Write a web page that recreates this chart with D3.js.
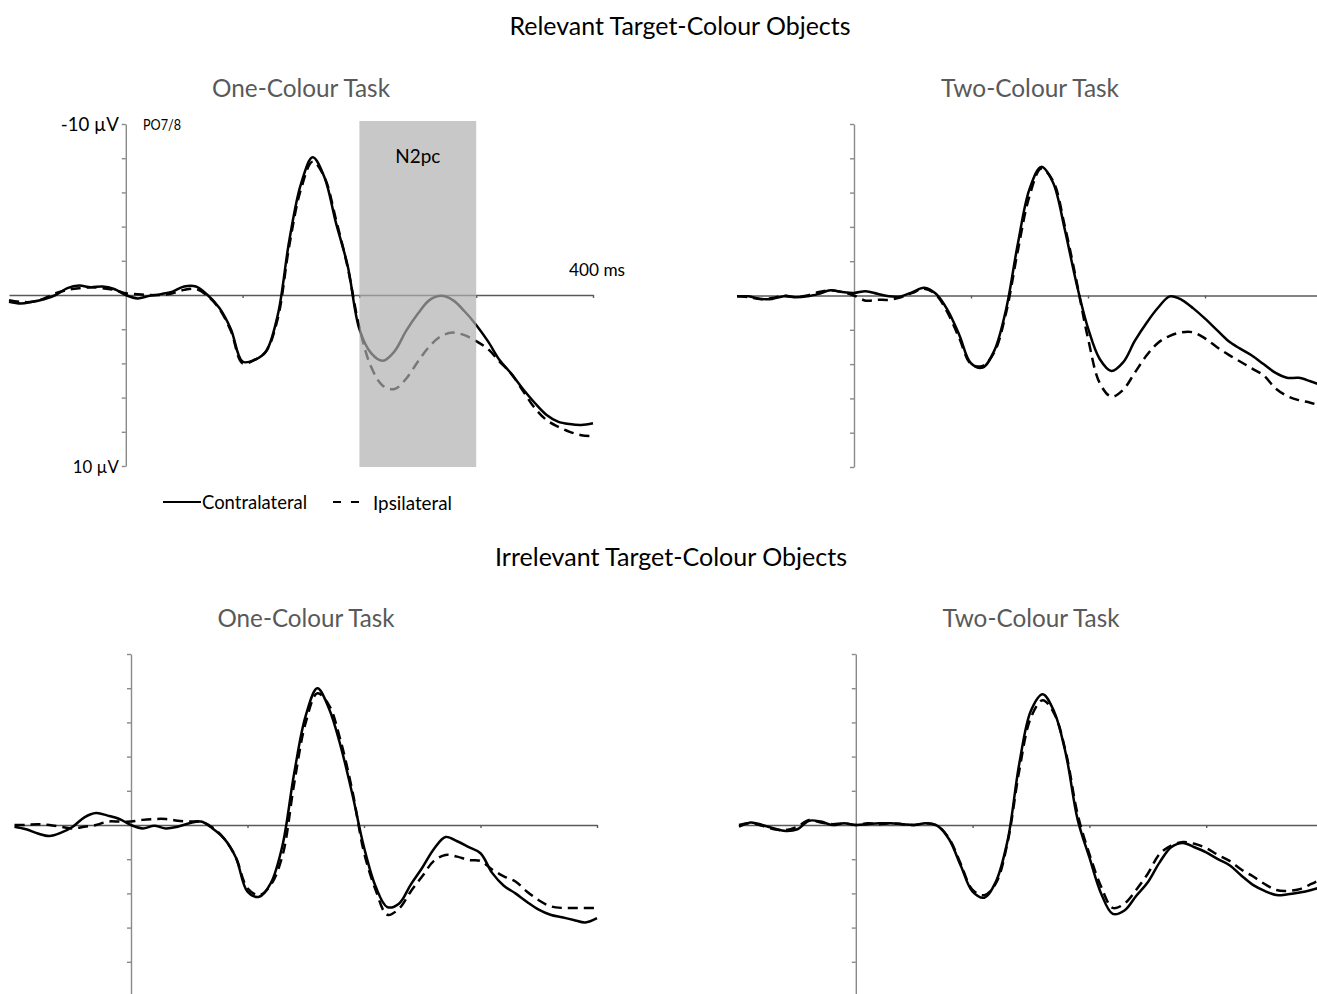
<!DOCTYPE html>
<html>
<head>
<meta charset="utf-8">
<script src="https://cdn.jsdelivr.net/npm/d3@7"></script>
<style>
  html, body { margin: 0; padding: 0; background: #ffffff; }
  svg { display: block; }
  text { font-family: Lato, "Open Sans", "Noto Sans", sans-serif; }
</style>
</head>
<body>
<svg id="chart" width="1317" height="994"></svg>
<script>
// ---------------- DATA ----------------
const timeMs = [-100,-90,-80,-70,-60,-50,-40,-30,-20,-10,0,10,20,30,40,50,60,70,80,90,100,110,120,130,140,150,160,170,180,190,200,210,220,230,240,250,260,270,280,290,300,310,320,330,340,350,360,370,380,390,400];

// Relevant target-colour objects, one-colour task (µV, negative up)
const relOneContra = [0.4,0.5,0.4,0.25,0.0,-0.4,-0.55,-0.45,-0.5,-0.35,0,0.2,0.05,-0.05,-0.2,-0.5,-0.5,0,0.75,2.0,3.9,3.8,3.3,1.2,-3.2,-6.5,-8.05,-6.9,-4.2,-1.7,2.0,3.4,3.85,3.3,2.1,1.1,0.3,0.05,0.3,0.95,1.75,2.7,3.8,4.6,5.5,6.3,7.0,7.4,7.55,7.6,7.5];
const relOneIpsi   = [0.3,0.4,0.4,0.2,-0.1,-0.3,-0.4,-0.45,-0.4,-0.3,-0.1,-0.05,0,0,-0.1,-0.3,-0.35,0.05,0.8,2.1,4.0,3.8,3.3,1.4,-2.9,-6.2,-7.8,-6.9,-4.4,-1.6,1.9,4.2,5.3,5.5,4.9,3.9,3.0,2.4,2.2,2.35,2.7,3.15,3.9,4.6,5.6,6.6,7.3,7.7,8.0,8.2,8.25];

// Relevant target-colour objects, two-colour task
const relTwoContra = [0.05,0.05,0.2,0.2,0.05,0.1,0.05,-0.1,-0.3,-0.2,-0.15,-0.25,-0.1,0.05,0.05,-0.2,-0.45,-0.1,0.85,2.3,3.95,4.2,3.2,0.8,-3.0,-6.2,-7.5,-6.6,-3.9,-0.75,1.9,3.7,4.4,3.9,2.65,1.6,0.7,0.05,0.25,0.75,1.35,2.0,2.65,3.1,3.5,4.0,4.5,4.8,4.8,5.0,5.25];
const relTwoIpsi   = [0.05,0.1,0.2,0.15,0.0,0.1,0.0,-0.2,-0.3,-0.2,0.0,0.3,0.25,0.25,0.1,-0.15,-0.4,-0.05,1.0,2.5,4.0,4.1,3.3,1.0,-2.6,-5.8,-7.4,-6.7,-4.1,-0.9,2.5,5.1,5.9,5.5,4.5,3.5,2.75,2.35,2.15,2.15,2.5,3.0,3.45,3.85,4.25,4.65,5.4,5.85,6.1,6.25,6.45];

// Irrelevant target-colour objects, one-colour task
const irrOneContra = [0.1,0.25,0.5,0.65,0.45,0.1,-0.45,-0.7,-0.55,-0.35,0,0.2,0.05,0.2,0.1,-0.1,-0.2,0.2,0.8,1.9,3.9,4.2,3.4,1.2,-3.0,-6.4,-8.0,-6.8,-4.6,-1.8,1.3,3.6,4.8,4.6,3.5,2.5,1.4,0.7,0.95,1.3,1.65,2.8,3.55,4.0,4.5,4.95,5.25,5.4,5.55,5.7,5.45];
const irrOneIpsi   = [0.0,0.0,-0.05,0.0,0.1,0.2,0.1,0.0,-0.2,-0.2,-0.2,-0.3,-0.35,-0.35,-0.25,-0.2,-0.2,0.15,0.8,1.9,3.7,4.1,3.5,1.8,-2.4,-6.0,-7.7,-7.0,-4.9,-2.0,1.6,3.8,5.25,4.9,3.9,3.0,2.1,1.75,1.85,2.05,2.1,2.6,3.0,3.3,3.9,4.4,4.75,4.85,4.85,4.85,4.85];

// Irrelevant target-colour objects, two-colour task
const irrTwoContra = [0.1,-0.15,0.0,0.2,0.35,0.25,-0.25,-0.2,0.0,-0.1,0.0,-0.05,-0.1,-0.1,-0.05,0.0,-0.1,0.05,0.85,2.4,3.9,4.25,3.3,0.9,-3.6,-6.7,-7.65,-6.6,-4.1,-0.3,1.9,4.0,5.2,5.0,4.15,3.35,2.2,1.3,1.05,1.3,1.6,2.0,2.35,2.95,3.5,3.85,4.1,4.05,3.95,3.8,3.6];
const irrTwoIpsi   = [0.0,-0.1,0.05,0.25,0.3,0.1,-0.3,-0.15,-0.05,-0.1,0.0,-0.1,-0.05,-0.1,-0.05,0.0,-0.1,0.05,0.8,2.3,3.8,4.1,3.4,1.0,-3.2,-6.3,-7.3,-6.5,-4.2,-0.6,1.7,3.6,4.85,4.6,3.8,2.85,1.7,1.2,1.0,1.1,1.35,1.75,2.1,2.6,3.0,3.45,3.8,3.85,3.75,3.45,3.1];

const yTickValues = [-10,-8,-6,-4,-2,0,2,4,6,8,10];
const xTickValues = [100,200,300,400];
const n2pcWindow = [200, 300];
const groupTitles = ["Relevant Target-Colour Objects", "Irrelevant Target-Colour Objects"];
const taskTitles = ["One-Colour Task", "Two-Colour Task"];
const legendLabels = ["Contralateral", "Ipsilateral"];

// ---------------- LAYOUT ----------------
const svg = d3.select("#chart");

const panels = [
  { contra: relOneContra, ipsi: relOneIpsi, xr: [9, 593],    yr: [124, 466], n2pc: true,  labels: true },
  { contra: relTwoContra, ipsi: relTwoIpsi, xr: [737, 1322], yr: [124, 467] },
  { contra: irrOneContra, ipsi: irrOneIpsi, xr: [14.5, 597], yr: [654, 996] },
  { contra: irrTwoContra, ipsi: irrTwoIpsi, xr: [739, 1323], yr: [654, 996] }
];

// size the font so that the text spans the width it has in the reference
function addText(x, y, str, size, color, anchor, width) {
  const t = svg.append("text")
    .attr("x", x).attr("y", y)
    .attr("font-size", size)
    .attr("fill", color)
    .attr("text-anchor", anchor)
    .attr("dominant-baseline", "central")
    .text(str);
  if (width) {
    const w = t.node().getComputedTextLength();
    if (w > 0) {
      t.attr("font-size", size * width / w)
       .attr("textLength", width)
       .attr("lengthAdjust", "spacingAndGlyphs");
    }
  }
  return t;
}

// Titles
addText(680, 25, groupTitles[0], 20, "#000000", "middle", 341);
addText(671, 556, groupTitles[1], 20, "#000000", "middle", 352);
addText(301, 87, taskTitles[0], 21, "#595959", "middle", 178);
addText(1030, 87, taskTitles[1], 21, "#595959", "middle", 178);
addText(306, 617, taskTitles[0], 21, "#595959", "middle", 177);
addText(1031, 617, taskTitles[1], 21, "#595959", "middle", 177);

panels.forEach(p => {
  const x = d3.scaleLinear().domain([-100, 400]).range(p.xr);
  const y = d3.scaleLinear().domain([-10, 10]).range(p.yr);
  const g = svg.append("g");

  // y axis at t = 0
  const yAxis = g.append("g")
    .attr("transform", `translate(${x(0)},0)`)
    .call(d3.axisLeft(y).tickValues(yTickValues).tickSize(4).tickSizeOuter(0).tickFormat(""));
  yAxis.selectAll("path, line").attr("stroke", "#8a8a8a").attr("stroke-width", 1.4);

  // x axis at 0 µV
  const xAxis = g.append("g")
    .attr("transform", `translate(0,${y(0)})`)
    .call(d3.axisBottom(x).tickValues(xTickValues).tickSize(3).tickSizeOuter(0).tickFormat(""));
  xAxis.selectAll("path, line").attr("stroke", "#5a5a5a").attr("stroke-width", 1.4);

  const line = d3.line()
    .x((d, i) => x(timeMs[i]))
    .y(d => y(d))
    .curve(d3.curveCatmullRom.alpha(0.5));

  g.append("path")
    .datum(p.ipsi)
    .attr("d", line)
    .attr("fill", "none")
    .attr("stroke", "#000000")
    .attr("stroke-width", 2.5)
    .attr("stroke-dasharray", "10,6");

  g.append("path")
    .datum(p.contra)
    .attr("d", line)
    .attr("fill", "none")
    .attr("stroke", "#000000")
    .attr("stroke-width", 2.5);

  if (p.n2pc) {
    g.append("rect")
      .attr("x", x(n2pcWindow[0]))
      .attr("y", y(-10) - 3)
      .attr("width", x(n2pcWindow[1]) - x(n2pcWindow[0]))
      .attr("height", y(10) - y(-10) + 4)
      .attr("fill", "rgb(175,175,175)")
      .attr("fill-opacity", 0.69);
    addText((x(n2pcWindow[0]) + x(n2pcWindow[1])) / 2, 155, "N2pc", 18, "#000000", "middle", 45);
  }

  if (p.labels) {
    addText(x(0) - 7, y(-10), "-10 µV", 15, "#000000", "end", 58);
    addText(x(0) - 7, y(10), "10 µV", 15, "#000000", "end", 46);
    svg.append("text")
      .attr("x", 143).attr("y", y(-10))
      .attr("font-size", 15.5)
      .attr("fill", "#000000")
      .attr("dominant-baseline", "central")
      .attr("textLength", 38)
      .attr("lengthAdjust", "spacingAndGlyphs")
      .text("PO7/8");
    addText(x(400) + 32, y(0) - 26, "400 ms", 15, "#000000", "end", 56);

    // legend
    const ly = 502;
    svg.append("line").attr("x1", 163).attr("x2", 201).attr("y1", ly).attr("y2", ly)
      .attr("stroke", "#000").attr("stroke-width", 2.2);
    addText(202, ly, legendLabels[0], 16, "#000000", "start", 105);
    svg.append("line").attr("x1", 333).attr("x2", 359).attr("y1", ly).attr("y2", ly)
      .attr("stroke", "#000").attr("stroke-width", 2.2).attr("stroke-dasharray", "8,10");
    addText(373, ly, legendLabels[1], 16, "#000000", "start", 79);
  }
});
</script>
</body>
</html>
